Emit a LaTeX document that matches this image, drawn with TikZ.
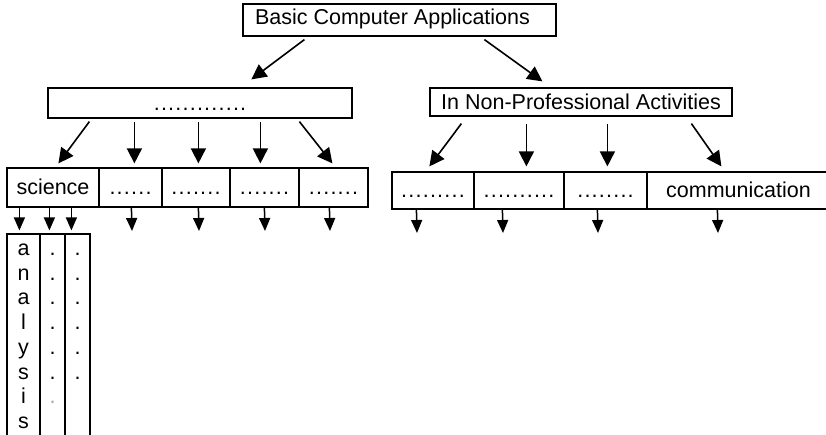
\documentclass[tikz,border=0pt]{standalone}
\usepackage{fontspec}
\setmainfont{Liberation Sans}
\usetikzlibrary{arrows.meta,calc}
\newcommand\dotrow[1]{\foreach \k in {1,...,#1}{\makebox[7.2pt]{.}}}
\begin{document}
\begin{tikzpicture}[x=1pt,y=-1pt,
  lab/.style={font=\fontsize{21.5}{26}\selectfont},
  box/.style={draw, line width=1.2pt, inner sep=0pt, lab, text height=16pt, text depth=1pt},
  colbox/.style={draw, line width=1.2pt, inner sep=0pt, minimum height=216pt},
  arr/.style={line width=1.6pt, -{Triangle[length=15pt,width=15pt]}},
  sarr/.style={line width=1.5pt, -{Triangle[length=13pt,width=11pt]}}]
\clip (0,0) rectangle (826,435);
\fill[white] (0,0) rectangle (826,435);
% top level
\node[box, minimum width=313pt, minimum height=32pt, text depth=6pt] (top) at (399.5,20) {Basic Computer Applications\hspace*{14pt}};
\node[box, minimum width=304pt, minimum height=30pt, text depth=0pt] (ml) at (200,103) {\dotrow{13}};
\node[box, minimum width=302pt, minimum height=28pt, text depth=1pt] (mr) at (581,102) {In Non-Professional Activities};
% lower left row
\node[box, minimum width=92pt, minimum height=39pt] (sci) at (53,187.5) {science};
\node[box, minimum width=63pt, minimum height=39pt] (l2) at (130.5,187.5) {\dotrow{6}};
\node[box, minimum width=68pt, minimum height=39pt] (l3) at (196,187.5) {\dotrow{7}};
\node[box, minimum width=69pt, minimum height=39pt] (l4) at (264.5,187.5) {\dotrow{7}};
\node[box, minimum width=69pt, minimum height=39pt] (l5) at (333.5,187.5) {\dotrow{7}};
% lower right row
\node[box, minimum width=82pt, minimum height=37pt, text depth=2pt] (r1) at (433,190.5) {\dotrow{9}};
\node[box, minimum width=90pt, minimum height=37pt, text depth=2pt] (r2) at (519,190.5) {\dotrow{10}};
\node[box, minimum width=83pt, minimum height=37pt, text depth=2pt] (r3) at (605.5,190.5) {\dotrow{8}};
\node[box, minimum width=183pt, minimum height=37pt, text depth=2pt] (r4) at (738.5,190.5) {communication};
% columns under science
\node[colbox, minimum width=33pt] (c1) at (23.5,342) {};
\node[colbox, minimum width=25pt] (c2) at (52.5,342) {};
\node[colbox, minimum width=25pt] (c3) at (77.5,342) {};
\foreach \ch [count=\i] in {a,n,a,l,y,s,i,s}
  \node[lab, anchor=base, inner sep=0pt] (an\i) at (23.5,{255.5+(\i-1)*24.7}) {\ch};
\foreach \i in {1,...,6}{
  \node[lab, anchor=base, inner sep=0pt] (da\i) at (52.5,{255.5+(\i-1)*24.7}) {.};
  \node[lab, anchor=base, inner sep=0pt] (db\i) at (77.5,{255.5+(\i-1)*24.7}) {.};
}
\node[lab, anchor=base, inner sep=0pt, text=black!35] (da7) at (52.5,{255.5+6*24.7}) {.};
% arrows from top
\draw[arr] ($(top.south west)+(62,3)$) -- ($(ml.north west)+(204,-8)$);
\draw[arr] ($(top.south west)+(242,3)$) -- ($(mr.north west)+(113,-6)$);
% arrows from middle left
\draw[arr] ($(ml.south west)+(42,3)$) -- ($(sci.north west)+(52,-4)$);
\draw[arr] ($(ml.south west)+(87,3)$) -- ($(l2.north west)+(36,-4)$);
\draw[arr] ($(ml.south west)+(151,3)$) -- ($(l3.north west)+(37,-4)$);
\draw[arr] ($(ml.south west)+(213,3)$) -- ($(l4.north west)+(31,-4)$);
\draw[arr] ($(ml.south west)+(252,3)$) -- ($(l5.north west)+(34,-4)$);
% arrows from middle right
\draw[arr] ($(mr.south west)+(32,7)$) -- ($(r1.north west)+(38,-5)$);
\draw[arr] ($(mr.south west)+(97,7)$) -- ($(r2.north west)+(53,-5)$);
\draw[arr] ($(mr.south west)+(178,7)$) -- ($(r3.north west)+(44,-5)$);
\draw[arr] ($(mr.south west)+(262,7)$) -- ($(r4.north west)+(75,-5)$);
% short arrows below science
\draw[sarr] ($(sci.south west)+(13,0)$) -- ($(c1.north west)+(13,-3)$);
\draw[sarr] ($(sci.south west)+(43,0)$) -- ($(c2.north west)+(10,-3)$);
\draw[sarr] ($(sci.south west)+(65,0)$) -- ($(c3.north west)+(7,-3)$);
% free-ended short arrows
\coordinate (t2) at (132,231);
\coordinate (t3) at (199,231);
\coordinate (t4) at (265,231);
\coordinate (t5) at (330,231);
\coordinate (u1) at (417,233);
\coordinate (u2) at (503,233);
\coordinate (u3) at (598,233);
\coordinate (u4) at (718,233);
\draw[sarr] ($(l2.south west)+(33,0)$) -- (t2);
\draw[sarr] ($(l3.south west)+(37,0)$) -- (t3);
\draw[sarr] ($(l4.south west)+(35,0)$) -- (t4);
\draw[sarr] ($(l5.south west)+(31,0)$) -- (t5);
\draw[sarr] ($(r1.south west)+(25,0)$) -- (u1);
\draw[sarr] ($(r2.south west)+(29,0)$) -- (u2);
\draw[sarr] ($(r3.south west)+(34,0)$) -- (u3);
\draw[sarr] ($(r4.south west)+(71,0)$) -- (u4);
\end{tikzpicture}
\end{document}
